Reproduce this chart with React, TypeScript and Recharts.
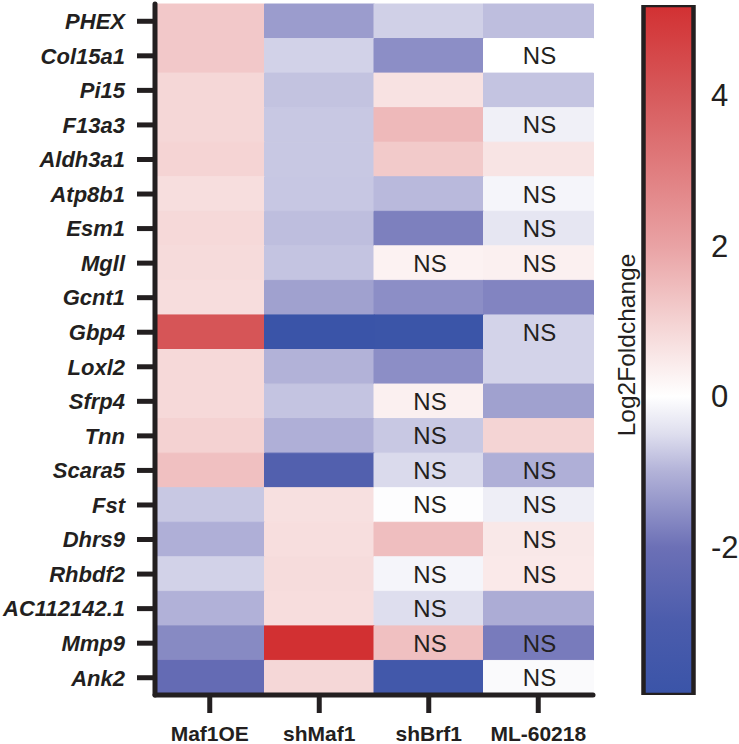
import { BarChart, Bar, XAxis, YAxis, Cell, LabelList, Label } from 'recharts';

const FONT = '"Liberation Sans", Arial, sans-serif';
const INK = '#231f20';

const GENES = [
  'PHEX', 'Col15a1', 'Pi15', 'F13a3', 'Aldh3a1', 'Atp8b1', 'Esm1', 'Mgll', 'Gcnt1', 'Gbp4',
  'Loxl2', 'Sfrp4', 'Tnn', 'Scara5', 'Fst', 'Dhrs9', 'Rhbdf2', 'AC112142.1', 'Mmp9', 'Ank2',
];
const CONDITIONS = ['Maf1OE', 'shMaf1', 'shBrf1', 'ML-60218'];

// log2 fold change per gene (same order as GENES)
const MAF1OE = [1.2, 1.2, 0.9, 0.9, 0.95, 0.73, 0.85, 0.8, 0.75, 4.14, 0.85, 0.85, 1.0, 1.37, -0.75, -1.04, -0.64, -1.01, -1.61, -2.24];
const SHMAF1 = [-1.33, -0.64, -0.81, -0.75, -0.75, -0.76, -0.86, -0.8, -1.26, -3.96, -1.0, -0.8, -1.04, -2.8, 0.69, 0.73, 0.78, 0.76, 5.19, 0.9];
const SHBRF1 = [-0.66, -1.54, 0.64, 1.52, 1.17, -0.92, -1.76, 0.29, -1.54, -3.9, -1.54, 0.33, -0.75, -0.55, -0.03, 1.42, -0.15, -0.5, 1.38, -3.5];
const ML60218 = [-0.86, 0.0, -0.8, -0.23, 0.6, -0.15, -0.38, 0.33, -1.69, -0.62, -0.62, -1.26, 0.96, -1.04, -0.26, 0.51, 0.5, -1.09, -1.83, -0.08];

// not significant cells
const NS_MAF1OE: string[] = [];
const NS_SHMAF1: string[] = [];
const NS_SHBRF1 = ['Mgll', 'Sfrp4', 'Tnn', 'Scara5', 'Fst', 'Rhbdf2', 'AC112142.1', 'Mmp9'];
const NS_ML60218 = ['Col15a1', 'F13a3', 'Atp8b1', 'Esm1', 'Mgll', 'Gbp4', 'Scara5', 'Fst', 'Dhrs9', 'Rhbdf2', 'Mmp9', 'Ank2'];

const SCALE_TICKS = [-2, 0, 2, 4];

const VALUES = [MAF1OE, SHMAF1, SHBRF1, ML60218];
const NS = [NS_MAF1OE, NS_SHMAF1, NS_SHBRF1, NS_ML60218];
const ALL = VALUES.flat();
const MIN = Math.min(...ALL);
const MAX = Math.max(...ALL);

// colour ramps, by magnitude
const RED_STOPS: Array<[number, string]> = [
  [0, '#ffffff'], [1, '#f4d2d2'], [2, '#e9a2a4'], [3, '#e07d7f'], [4, '#d75a5c'], [5.19, '#d23032'],
];
const BLUE_STOPS: Array<[number, string]> = [
  [0, '#ffffff'], [0.5, '#dedeee'], [1, '#b2b2d8'], [2, '#6c70b6'], [3, '#4b5cac'], [3.96, '#3a54a8'],
];

const hexToRgb = (h: string) => [1, 3, 5].map((i) => parseInt(h.slice(i, i + 2), 16));

function colorFor(v: number) {
  const stops = v >= 0 ? RED_STOPS : BLUE_STOPS;
  const a = Math.abs(v);
  if (a >= stops[stops.length - 1][0]) return stops[stops.length - 1][1];
  for (let i = 1; i < stops.length; i++) {
    const [v1, c1] = stops[i];
    const [v0, c0] = stops[i - 1];
    if (a <= v1) {
      const t = (a - v0) / (v1 - v0);
      const p = hexToRgb(c0);
      const q = hexToRgb(c1);
      const rgb = p.map((x, k) => Math.round(x + (q[k] - x) * t));
      return `rgb(${rgb.join(',')})`;
    }
  }
  return '#ffffff';
}

const HEAT_ROWS = CONDITIONS.map((c) => {
  const row: Record<string, string | number> = { condition: c };
  GENES.forEach((_, gi) => (row[`g${gi}`] = 1));
  return row;
});
const ROW_TICKS = GENES.map((_, i) => i + 0.5);

const SCALE_ROWS = [{ name: 'scale', range: [MIN, MAX] }];
// gradient stops ordered top (max) -> bottom (min)
const GRADIENT: Array<[number, string]> = [
  ...RED_STOPS.slice().reverse(),
  ...BLUE_STOPS.slice(1).map(([m, c]) => [-m, c] as [number, string]),
];

const axisLine = { stroke: INK, strokeWidth: 5, strokeLinecap: 'round' as const };
const tickLine = { stroke: INK, strokeWidth: 5 };

function nsLabel(props: any, gi: number) {
  const { x, y, width, height, index } = props;
  if (!NS[index]?.includes(GENES[gi])) return null;
  return (
    <text
      key={`ns-${gi}-${index}`}
      x={Number(x) + Number(width) / 2 + 1}
      y={Number(y) + Number(height) / 2}
      textAnchor="middle"
      dominantBaseline="central"
      fontSize={24}
      fontFamily={FONT}
      fill={INK}
    >
      NS
    </text>
  );
}

export default function App() {
  return (
    <div style={{ position: 'absolute', left: 0, top: 0, width: 739, height: 744, background: '#fff' }}>
      <div style={{ position: 'absolute', left: 0, top: 0 }}>
        <BarChart
          width={600}
          height={744}
          data={HEAT_ROWS}
          margin={{ top: 4, right: 7, bottom: 0, left: 0 }}
          barCategoryGap={0}
          barGap={0}
        >
          {GENES.map((g, gi) => (
            <Bar key={g} dataKey={`g${gi}`} stackId="heat" isAnimationActive={false}>
              {CONDITIONS.map((c, ci) => (
                <Cell key={c} fill={colorFor(VALUES[ci][gi])} stroke={colorFor(VALUES[ci][gi])} strokeWidth={1} />
              ))}
              <LabelList dataKey={`g${gi}`} content={(p: any) => nsLabel(p, gi)} />
            </Bar>
          ))}
          <XAxis
            dataKey="condition"
            height={49}
            interval={0}
            tickSize={18}
            tickMargin={13}
            axisLine={axisLine}
            tickLine={tickLine}
            tick={{ fontSize: 21, fontWeight: 'bold', fill: INK, fontFamily: FONT }}
          />
          <XAxis xAxisId="top" orientation="top" dataKey="condition" height={0} tick={false} tickLine={false} axisLine={axisLine} />
          <YAxis
            type="number"
            domain={[0, GENES.length]}
            reversed
            ticks={ROW_TICKS}
            interval={0}
            width={155}
            tickSize={18}
            tickMargin={12}
            tickFormatter={(v: number) => GENES[Math.floor(v)]}
            axisLine={axisLine}
            tickLine={tickLine}
            tick={{ fontSize: 22, fontWeight: 'bold', fontStyle: 'italic', fill: INK, fontFamily: FONT }}
          />
          <YAxis yAxisId="right" orientation="right" width={0} tick={false} tickLine={false} axisLine={axisLine} />
        </BarChart>
      </div>

      <div style={{ position: 'absolute', left: 600, top: 0 }}>
        <BarChart
          width={139}
          height={744}
          data={SCALE_ROWS}
          margin={{ top: 5, right: 0, bottom: 49, left: 0 }}
          barCategoryGap={0}
        >
          <defs>
            <linearGradient id="log2fc" x1="0" y1="0" x2="0" y2="1">
              {GRADIENT.map(([v, c]) => (
                <stop key={v} offset={(MAX - v) / (MAX - MIN)} stopColor={c} />
              ))}
            </linearGradient>
          </defs>
          <Bar
            dataKey="range"
            fill="url(#log2fc)"
            stroke={INK}
            strokeWidth={4.5}
            strokeLinejoin="round"
            isAnimationActive={false}
          />
          <XAxis dataKey="name" hide />
          <YAxis
            type="number"
            domain={[MIN, MAX]}
            allowDataOverflow
            ticks={SCALE_TICKS}
            width={43.5}
            tickSize={-9}
            tick={false}
            axisLine={false}
            tickLine={{ stroke: INK, strokeWidth: 4.5 }}
          >
            <Label
              value="Log2Foldchange"
              angle={-90}
              position="center"
              dx={5}
              dy={-5}
              style={{ fontSize: 24.5, fill: INK, fontFamily: FONT }}
            />
          </YAxis>
          <YAxis
            yAxisId="rticks"
            orientation="right"
            type="number"
            domain={[MIN, MAX]}
            allowDataOverflow
            ticks={SCALE_TICKS}
            mirror
            width={0}
            tickSize={9}
            tick={false}
            axisLine={false}
            tickLine={{ stroke: INK, strokeWidth: 4.5 }}
          />
          <YAxis
            yAxisId="rlabels"
            orientation="right"
            type="number"
            domain={[MIN, MAX]}
            allowDataOverflow
            ticks={SCALE_TICKS}
            width={46}
            tickSize={0}
            tickMargin={18}
            axisLine={false}
            tickLine={false}
            tick={{ fontSize: 31, fill: INK, fontFamily: FONT }}
          />
        </BarChart>
      </div>
    </div>
  );
}
